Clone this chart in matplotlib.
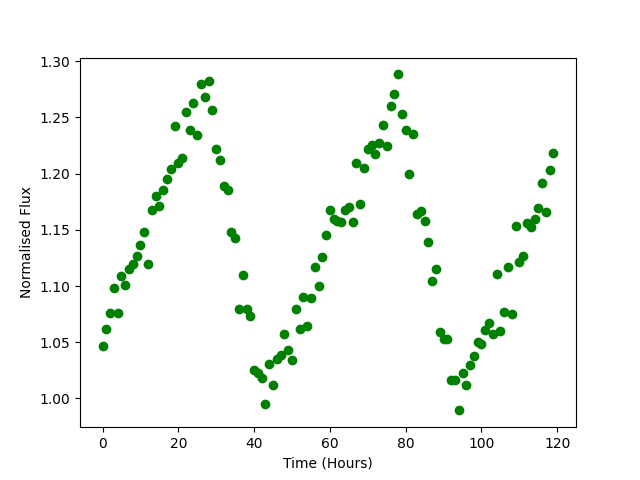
import matplotlib
matplotlib.use('Agg')
import matplotlib.pyplot as plt

# Time in hours
hours = list(range(120))

# Normalised flux
flux = [
    1.047, 1.0615, 1.0763, 1.0986, 1.0763, 1.1086, 1.1013, 1.1155, 1.120, 1.1265,
    1.1369, 1.1484, 1.1193, 1.168, 1.1805, 1.1716, 1.1852, 1.195, 1.2045, 1.2419,
    1.2095, 1.2143, 1.2552, 1.2392, 1.2632, 1.2339, 1.2801, 1.2677, 1.2822, 1.2561,
    1.2223, 1.2125, 1.1888, 1.1855, 1.1484, 1.1428, 1.0799, 1.1102, 1.0793, 1.0733,
    1.0256, 1.0229, 1.0182, 0.9947, 1.0303, 1.0116, 1.0348, 1.0390, 1.0576, 1.0428,
    1.0339, 1.0799, 1.062, 1.0903, 1.0644, 1.0894, 1.117, 1.100, 1.1258, 1.1458,
    1.1674, 1.1597, 1.1579, 1.1565, 1.168, 1.1703, 1.1565, 1.209, 1.1733, 1.2054,
    1.2223, 1.2252, 1.2172, 1.2276, 1.2430, 1.2243, 1.2597, 1.2704, 1.2882, 1.2526,
    1.2392, 1.200, 1.2348, 1.1638, 1.1665, 1.1579, 1.1392, 1.1042, 1.1152, 1.0591,
    1.0532, 1.0532, 1.0167, 1.0167, 0.9894, 1.0229, 1.0116, 1.0294, 1.0380, 1.0505,
    1.0487, 1.0606, 1.0671, 1.057, 1.1111, 1.0597, 1.0769, 1.1167, 1.0748, 1.1531,
    1.1214, 1.1265, 1.1558, 1.1526, 1.16, 1.1692, 1.192, 1.1656, 1.2036, 1.2179,
]

plt.figure(figsize=(6.4, 4.8), dpi=100)
plt.plot(hours, flux, 'o', color='green')
plt.xlabel('Time (Hours)')
plt.ylabel('Normalised Flux')
plt.savefig('out.png')
